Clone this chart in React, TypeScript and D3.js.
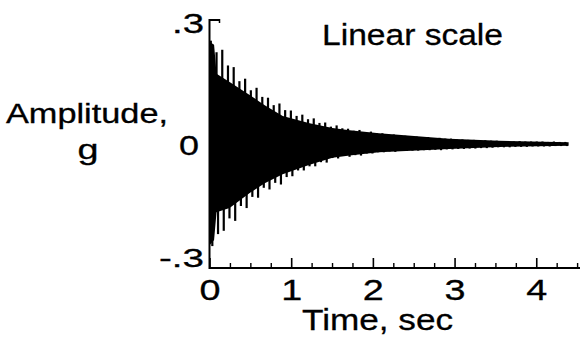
import React from "react";
import * as d3 from "d3";

// Spike (peak) times in seconds, with the positive and negative peak amplitudes (g)
const spikeTimes = [
  0.01, 0.08, 0.15, 0.22, 0.29, 0.36, 0.43, 0.5, 0.57, 0.64,
  0.71, 0.78, 0.85, 0.92, 0.99, 1.06, 1.13, 1.2, 1.27, 1.34,
  1.41, 1.48, 1.55, 1.62, 1.69, 1.76, 1.83, 1.9, 1.97, 2.04,
  2.11, 2.18, 2.25, 2.32, 2.39, 2.46, 2.53, 2.6, 2.67, 2.74,
  2.81, 2.88, 2.95, 3.02, 3.09, 3.16, 3.23, 3.3, 3.37, 3.44,
  3.51, 3.58, 3.65, 3.72, 3.79, 3.86, 3.93, 4.0, 4.07, 4.14,
  4.21, 4.28, 4.35,
];
const upperPeaks = [
  0.25, 0.222, 0.228, 0.19, 0.186, 0.152, 0.158, 0.13, 0.136, 0.114,
  0.112, 0.094, 0.098, 0.082, 0.081, 0.068, 0.071, 0.06, 0.062, 0.051,
  0.052, 0.042, 0.045, 0.038, 0.037, 0.032, 0.034, 0.029, 0.03, 0.026,
  0.026, 0.023, 0.023, 0.02, 0.02, 0.017, 0.018, 0.016, 0.017, 0.014,
  0.015, 0.013, 0.013, 0.011, 0.011, 0.01, 0.01, 0.009, 0.009, 0.008,
  0.008, 0.007, 0.007, 0.006, 0.007, 0.006, 0.006, 0.006, 0.006, 0.005,
  0.006, 0.005, 0.005,
];
const lowerPeaks = [
  -0.247, -0.218, -0.21, -0.18, -0.186, -0.15, -0.155, -0.128, -0.13, -0.106,
  -0.11, -0.094, -0.098, -0.08, -0.078, -0.064, -0.064, -0.054, -0.054, -0.044,
  -0.045, -0.034, -0.035, -0.029, -0.031, -0.027, -0.028, -0.023, -0.023, -0.02,
  -0.02, -0.018, -0.019, -0.016, -0.017, -0.016, -0.016, -0.015, -0.015, -0.014,
  -0.015, -0.013, -0.013, -0.012, -0.012, -0.011, -0.011, -0.01, -0.01, -0.009,
  -0.008, -0.008, -0.008, -0.007, -0.007, -0.007, -0.006, -0.006, -0.006, -0.006,
  -0.005, -0.005, -0.005,
];

// Solid core of the trace (g)
const coreTimes = [0.0, 0.05, 0.08, 0.24, 0.49, 0.67, 0.89, 1.22, 1.5, 1.71, 2.07, 2.93, 3.54, 4.39];
const coreUpper = [0.247, 0.24, 0.17, 0.15, 0.118, 0.094, 0.068, 0.05, 0.039, 0.033, 0.026, 0.013, 0.008, 0.004];
const coreLower = [-0.244, -0.232, -0.165, -0.155, -0.118, -0.095, -0.073, -0.05, -0.033, -0.028, -0.02, -0.012, -0.007, -0.004];

const majorTicks = [0, 1, 2, 3, 4];
const majorTickLabels = ["0", "1", "2", "3", "4"];
const minorTicks = [0.25, 0.5, 0.75, 1.25, 1.5, 1.75, 2.25, 2.5, 2.75, 3.25, 3.5, 3.75, 4.25, 4.5];

const FONT = "'Liberation Sans', Arial, Helvetica, sans-serif";

export default function App() {
  const W = 580;
  const H = 348;
  const x = d3.scaleLinear().domain([0, 4.5]).range([210, 577.6]);
  const y = d3.scaleLinear().domain([-0.3, 0.3]).range([268, 20]);

  const coreData = coreTimes.map((t, i) => ({ t, hi: coreUpper[i], lo: coreLower[i] }));
  const area = d3
    .area<{ t: number; hi: number; lo: number }>()
    .x((d) => x(d.t))
    .y0((d) => y(d.lo))
    .y1((d) => y(d.hi));

  const txt = { fontFamily: FONT, stroke: "#000", strokeWidth: 0.3, lengthAdjust: "spacingAndGlyphs" } as const;

  return (
    <svg
      width={W}
      height={H}
      viewBox={`0 0 ${W} ${H}`}
      style={{ position: "absolute", left: 0, top: 0, background: "#fff" }}
    >
      <rect x={0} y={0} width={W} height={H} fill="#fff" />
      {/* signal */}
      <path d={area(coreData) || ""} fill="#000" />
      {spikeTimes.map((t, i) => (
        <line
          key={"u" + i}
          x1={x(t)}
          x2={x(t)}
          y1={y(0)}
          y2={y(upperPeaks[i])}
          stroke="#000"
          strokeWidth={2.2}
        />
      ))}
      {spikeTimes.map((t, i) => (
        <line
          key={"l" + i}
          x1={x(t) + 1.5}
          x2={x(t) + 1.5}
          y1={y(0)}
          y2={y(lowerPeaks[i])}
          stroke="#000"
          strokeWidth={2.2}
        />
      ))}

      {/* axes */}
      <line x1={209.5} x2={209.5} y1={19} y2={269} stroke="#000" strokeWidth={2} />
      <line x1={209} x2={220} y1={20} y2={20} stroke="#000" strokeWidth={2} />
      <line x1={219.5} x2={219.5} y1={19} y2={23} stroke="#000" strokeWidth={1.5} />
      <line x1={209} x2={580} y1={268} y2={268} stroke="#000" strokeWidth={2} />
      {majorTicks.map((t) => (
        <line key={"M" + t} x1={x(t)} x2={x(t)} y1={268} y2={258} stroke="#000" strokeWidth={1.6} />
      ))}
      {minorTicks.map((t) => (
        <line key={"m" + t} x1={x(t)} x2={x(t)} y1={268} y2={263} stroke="#000" strokeWidth={1.4} />
      ))}

      {/* tick labels */}
      {majorTicks.map((t, i) => (
        <text key={"L" + t} x={x(t)} y={300} textAnchor="middle" fontSize={30} textLength={21} {...txt}>
          {majorTickLabels[i]}
        </text>
      ))}
      <text x={172} y={33} fontSize={27} textLength={32} {...txt}>
        .3
      </text>
      <text x={179} y={155} fontSize={27} textLength={20} {...txt}>
        0
      </text>
      <text x={159} y={267} fontSize={26} textLength={45} {...txt}>
        -.3
      </text>

      {/* titles */}
      <text x={322} y={45} fontSize={30} textLength={181} {...txt}>
        Linear scale
      </text>
      <text x={6} y={123} fontSize={27} textLength={162} {...txt}>
        Amplitude,
      </text>
      <text x={88} y={159} textAnchor="middle" fontSize={27} textLength={21} {...txt}>
        g
      </text>
      <text x={302} y={330} fontSize={30} textLength={151} {...txt}>
        Time, sec
      </text>
    </svg>
  );
}
